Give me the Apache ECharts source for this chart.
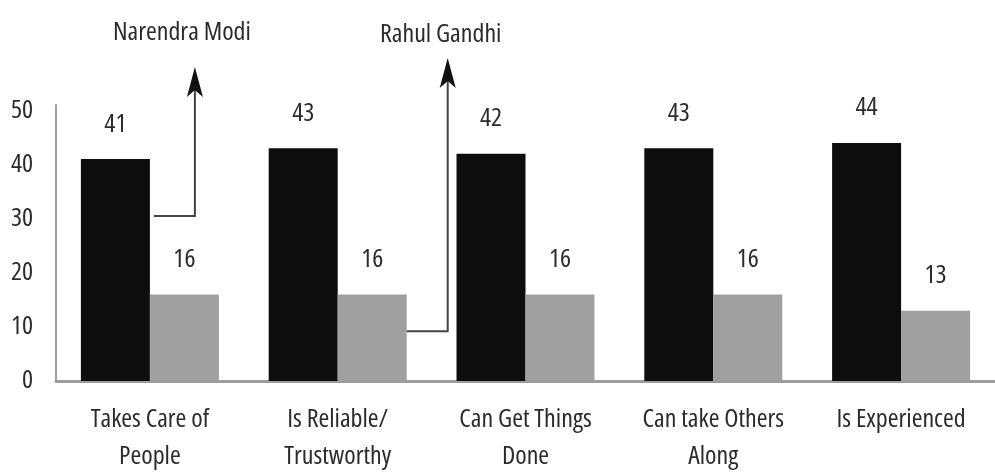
<!DOCTYPE html>
<html>
<head>
<meta charset="utf-8">
<script src="https://cdn.jsdelivr.net/npm/echarts@6/dist/echarts.min.js"></script>
<style>
  html, body { margin: 0; padding: 0; background: #fff; }
  #chart { width: 995px; height: 475px; }
</style>
</head>
<body>
<div id="chart"></div>
<script>
// Leadership qualities: share of respondents naming each leader
const categories = [
  'Takes Care of\nPeople',
  'Is Reliable/\nTrustworthy',
  'Can Get Things\nDone',
  'Can take Others\nAlong',
  'Is Experienced'
];
const modiValues = [41, 43, 42, 43, 44];
const rahulValues = [16, 16, 16, 16, 13];
const yTicks = [0, 10, 20, 30, 40, 50];

// Open Sans condensed face; the keyword rides along in the canvas font shorthand
const FONT_FAMILY = "'Open Sans', 'Roboto Condensed', sans-serif";
const FONT_STRETCH = 'condensed';
const FONT_SIZE = 26;
const TEXT = '#2b2b2b';
const BAR_W = 69;

const textBase = {
  color: TEXT,
  fontFamily: FONT_FAMILY,
  fontWeight: FONT_STRETCH,
  fontSize: FONT_SIZE
};

const chart = echarts.init(document.getElementById('chart'), null, { renderer: 'canvas' });

const labelStyle = Object.assign({ show: true, position: 'top', distance: 22 }, textBase);

chart.setOption({
  animation: false,
  backgroundColor: '#fff',
  grid: { left: 56, top: 105, bottom: 93, width: 950 },
  xAxis: {
    type: 'category',
    data: categories,
    axisTick: { show: false },
    axisLine: { lineStyle: { color: '#9d9d9d', width: 3 } },
    axisLabel: Object.assign({ lineHeight: 37, margin: 20, interval: 0 }, textBase)
  },
  yAxis: {
    type: 'value',
    min: 0,
    max: 51,
    interval: 10,
    splitLine: { show: false },
    axisTick: { show: false },
    axisLine: { show: true, lineStyle: { color: '#9d9d9d', width: 2 } },
    axisLabel: Object.assign({
      margin: 23,
      formatter: v => (yTicks.indexOf(v) >= 0 ? String(v) : '')
    }, textBase)
  },
  series: [
    {
      name: 'Narendra Modi',
      type: 'bar',
      data: modiValues,
      barWidth: BAR_W,
      barGap: '0%',
      itemStyle: { color: '#0d0d0d' },
      label: labelStyle
    },
    {
      name: 'Rahul Gandhi',
      type: 'bar',
      data: rahulValues,
      barWidth: BAR_W,
      barGap: '0%',
      itemStyle: { color: '#a0a0a0' },
      label: labelStyle
    }
  ]
});

// Callout arrows naming each series, anchored to bars via the axes
function pt(cat, val) {
  return chart.convertToPixel({ gridIndex: 0 }, [cat, val]);
}
function arrowHead(x, yTip) {
  return {
    type: 'polygon',
    shape: { points: [[x, yTip], [x + 8, yTip + 30], [x, yTip + 23], [x - 8, yTip + 30]] },
    style: { fill: '#111' },
    z: 10
  };
}
function calloutText(text, x, y) {
  return {
    type: 'text',
    x: x,
    y: y,
    style: {
      text: text,
      fill: TEXT,
      font: FONT_STRETCH + ' ' + FONT_SIZE + 'px ' + FONT_FAMILY,
      align: 'center',
      verticalAlign: 'middle'
    },
    z: 10
  };
}

const modiStart = pt(0, 30.5);
const modiX = modiStart[0] + 45;
const modiTop = 67;
const rahulStart = pt(1, 9.2);
const rahulX = rahulStart[0] + 110;
const rahulTop = 58;

chart.setOption({
  graphic: [
    {
      type: 'polyline',
      shape: { points: [[modiStart[0] + 4, modiStart[1]], [modiX, modiStart[1]], [modiX, modiTop + 20]] },
      style: { stroke: '#444', lineWidth: 2, fill: null },
      z: 10
    },
    arrowHead(modiX, modiTop),
    calloutText('Narendra Modi', modiX - 13, 33),
    {
      type: 'polyline',
      shape: { points: [[rahulStart[0] + BAR_W, rahulStart[1]], [rahulX, rahulStart[1]], [rahulX, rahulTop + 20]] },
      style: { stroke: '#444', lineWidth: 2, fill: null },
      z: 10
    },
    arrowHead(rahulX, rahulTop),
    calloutText('Rahul Gandhi', rahulX - 7, 35)
  ]
});
</script>
</body>
</html>
